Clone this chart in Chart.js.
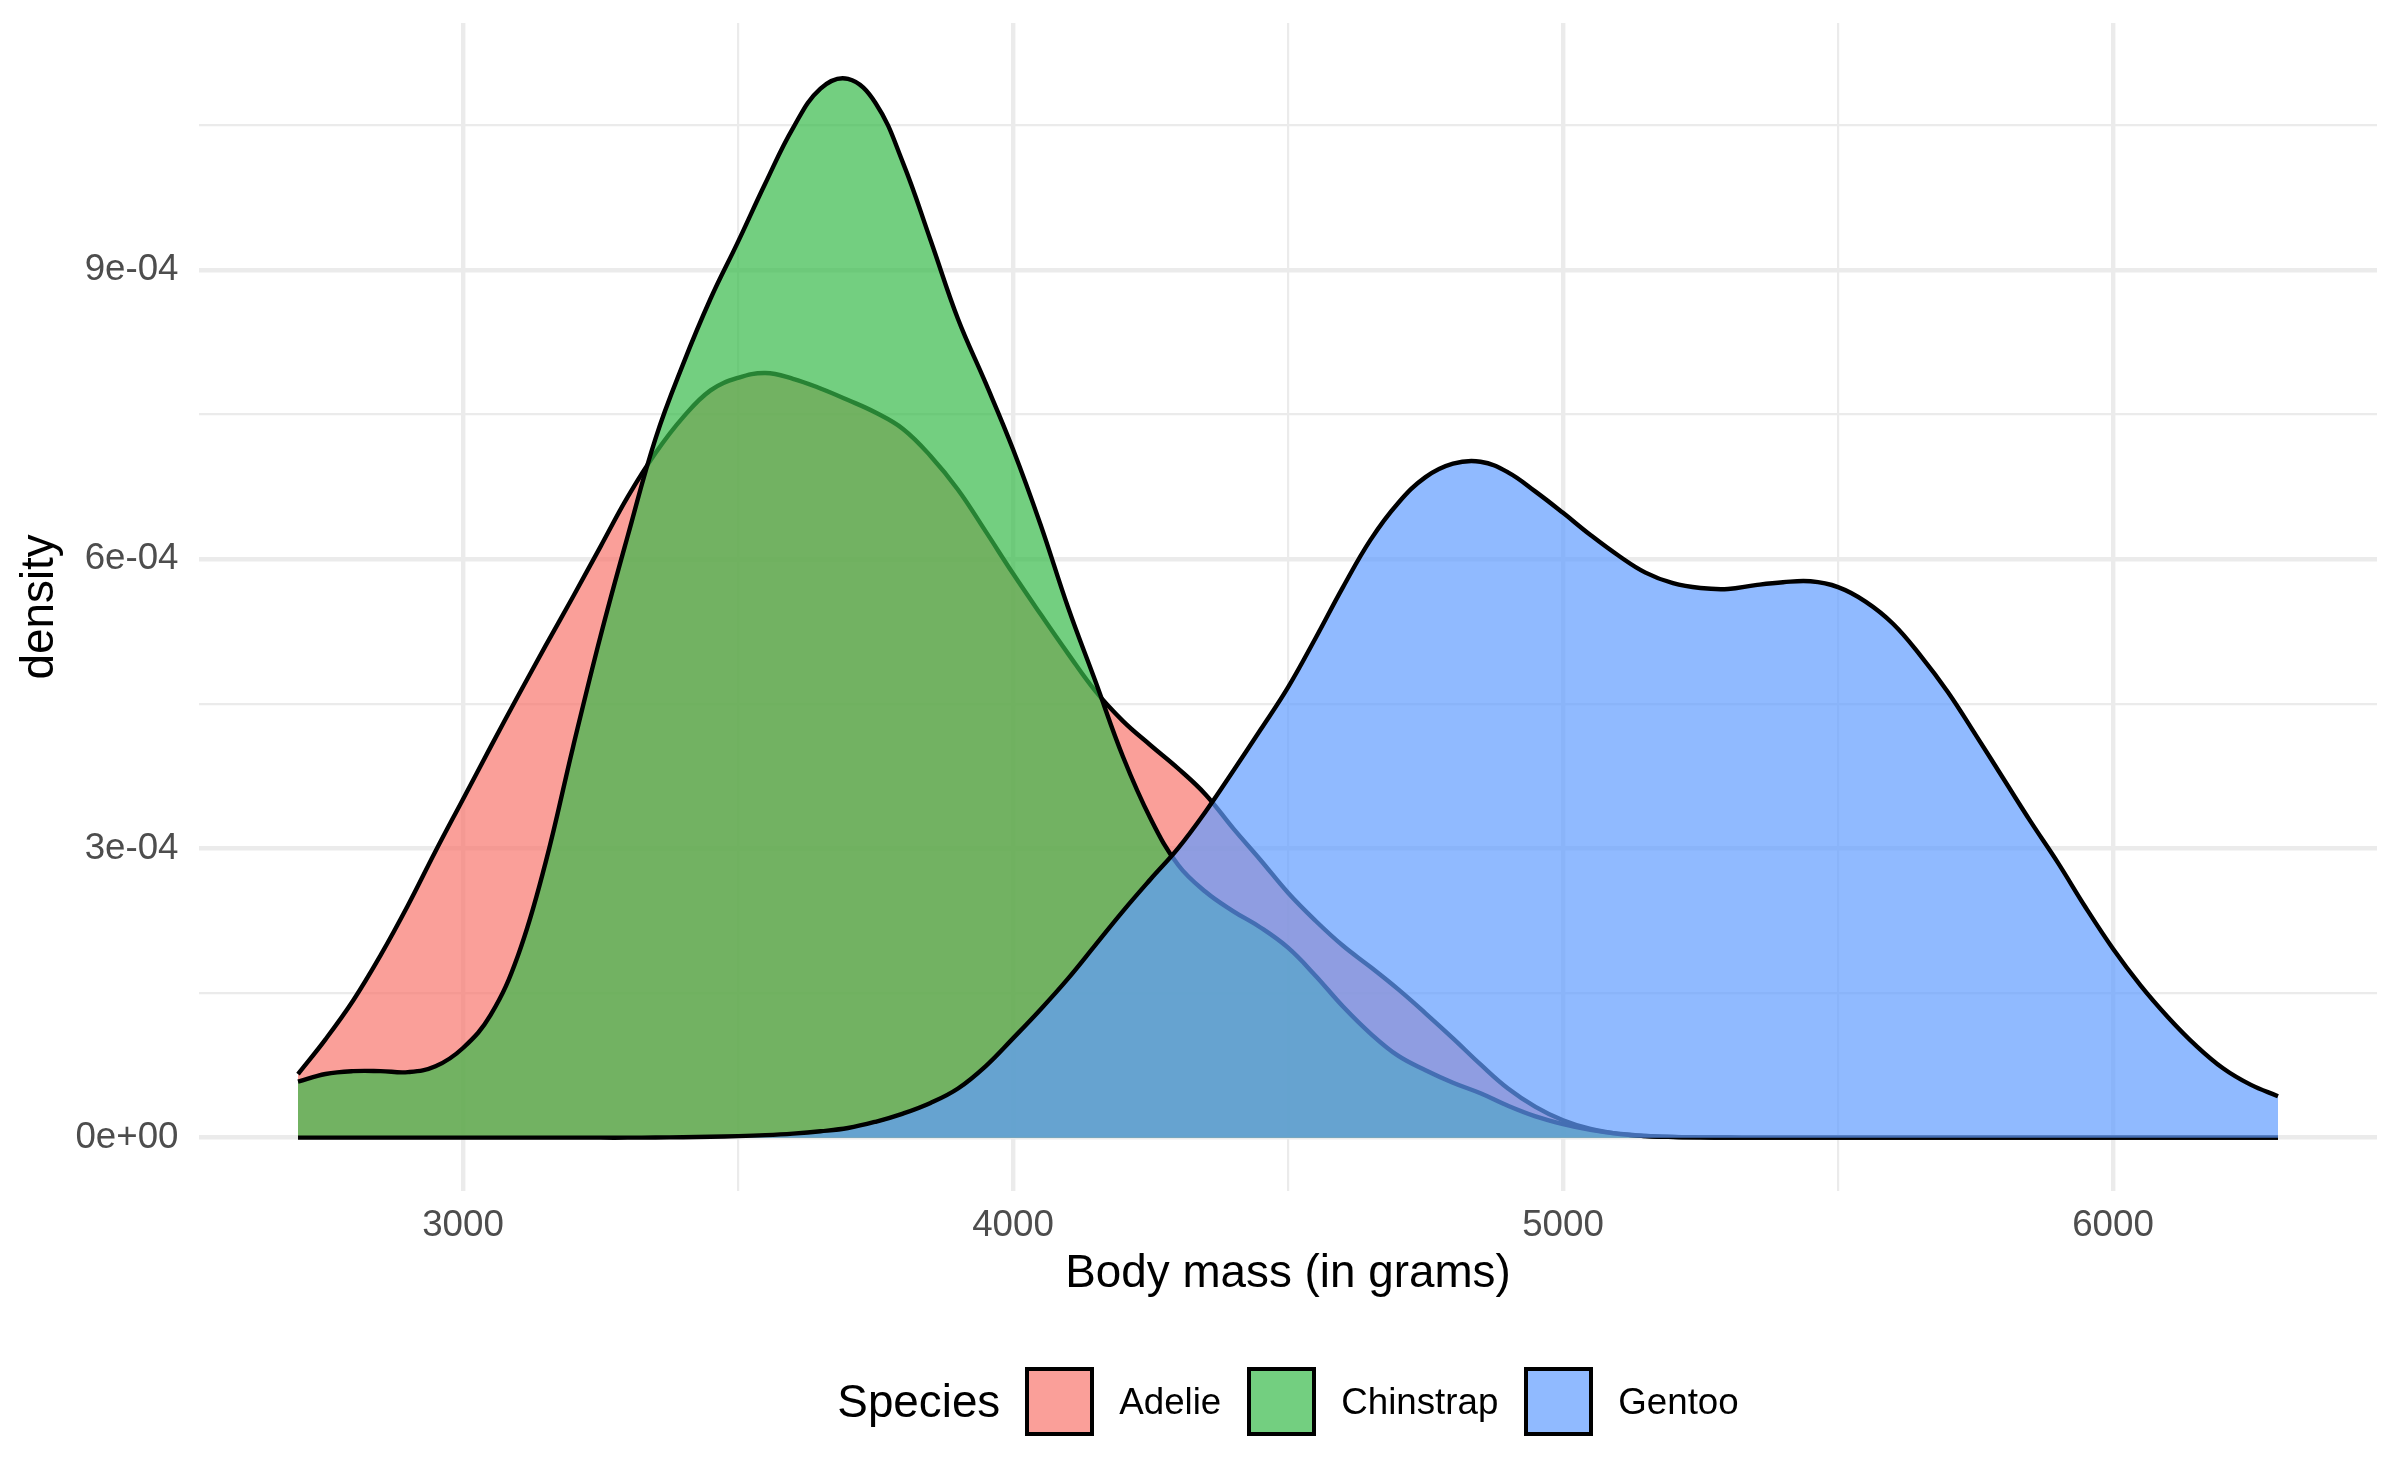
<!DOCTYPE html>
<html lang="en">
<head>
<meta charset="utf-8">
<title>Body mass density by species</title>
<script src="https://cdn.jsdelivr.net/npm/chart.js@4.4.1/dist/chart.umd.min.js"></script>
<style>
    html, body { margin: 0; padding: 0; background: #fff; }
    .wrap { position: relative; width: 2400px; height: 1483px; }
    #density-chart { position: absolute; left: 0; top: 0; }
    .legend {
        position: absolute; left: 199px; width: 2178px; top: 1367px; height: 69px;
        display: flex; justify-content: center; align-items: center;
        font-family: "Liberation Sans", Arial, sans-serif; color: #000;
    }
    .legend .title { font-size: 45.8px; margin-right: 25px; }
    .legend .key { width: 69px; height: 69px; box-sizing: border-box; border: 4px solid #000; }
    .legend .label { font-size: 36.7px; margin-left: 25px; margin-right: 26px; }
    .legend .label:last-child { margin-right: 0; }
</style>
</head>
<body>
<div class="wrap">
    <canvas id="density-chart" width="2400" height="1483"></canvas>
    <div class="legend" id="legend"></div>
</div>
<script>
(function () {
    "use strict";

    // Values, density in units of 1e-4
    var mass = [2700, 2750, 2800, 2850, 2900, 2950, 3000, 3050, 3100, 3150,
        3200, 3250, 3300, 3350, 3400, 3450, 3500, 3550, 3600, 3650,
        3700, 3750, 3800, 3850, 3900, 3950, 4000, 4050, 4100, 4150,
        4200, 4250, 4300, 4350, 4400, 4450, 4500, 4550, 4600, 4650,
        4700, 4750, 4800, 4850, 4900, 4950, 5000, 5050, 5100, 5150,
        5200, 5250, 5300, 5350, 5400, 5450, 5500, 5550, 5600, 5650,
        5700, 5750, 5800, 5850, 5900, 5950, 6000, 6050, 6100, 6150,
        6200, 6250, 6300];

    var adelie = [0.66, 1.02, 1.42, 1.89, 2.41, 2.97, 3.51, 4.05, 4.58, 5.1,
        5.61, 6.13, 6.65, 7.1, 7.47, 7.75, 7.88, 7.93, 7.87, 7.77,
        7.65, 7.52, 7.35, 7.07, 6.72, 6.29, 5.85, 5.43, 5.02, 4.63,
        4.32, 4.07, 3.83, 3.56, 3.21, 2.88, 2.54, 2.25, 1.99, 1.77,
        1.54, 1.29, 1.03, 0.76, 0.51, 0.32, 0.18, 0.09, 0.04, 0.017,
        0.007, 0.003, 0.001, 0, 0, 0, 0, 0, 0, 0,
        0, 0, 0, 0, 0, 0, 0, 0, 0, 0,
        0, 0, 0];

    var chinstrap = [0.58, 0.66, 0.69, 0.69, 0.68, 0.74, 0.93, 1.27, 1.89, 2.85,
        4.05, 5.2, 6.25, 7.25, 8.02, 8.7, 9.29, 9.9, 10.47, 10.88,
        10.98, 10.73, 10.11, 9.31, 8.49, 7.83, 7.14, 6.36, 5.5, 4.73,
        3.95, 3.31, 2.83, 2.55, 2.35, 2.18, 1.97, 1.68, 1.36, 1.08,
        0.85, 0.7, 0.57, 0.46, 0.33, 0.22, 0.14, 0.08, 0.04, 0.018,
        0.008, 0.003, 0.001, 0, 0, 0, 0, 0, 0, 0,
        0, 0, 0, 0, 0, 0, 0, 0, 0, 0,
        0, 0, 0];

    var gentoo = [0, 0, 0, 0, 0, 0, 0, 0, 0, 0,
        0, 0, 0, 0.002, 0.005, 0.01, 0.016, 0.026, 0.042, 0.066,
        0.1, 0.165, 0.25, 0.36, 0.51, 0.74, 1.03, 1.33, 1.65, 2.0,
        2.35, 2.68, 3.0, 3.38, 3.8, 4.23, 4.67, 5.18, 5.71, 6.2,
        6.58, 6.85, 6.99, 7.01, 6.9, 6.7, 6.48, 6.25, 6.04, 5.86,
        5.75, 5.7, 5.69, 5.73, 5.76, 5.77, 5.71, 5.56, 5.33, 5.0,
        4.62, 4.18, 3.73, 3.28, 2.85, 2.39, 1.96, 1.58, 1.25, 0.96,
        0.72, 0.55, 0.43];

    var species = ['Adelie', 'Chinstrap', 'Gentoo'];
    var fills = ['rgba(248, 118, 109, .7)', 'rgba(56, 187, 74, .7)', 'rgba(97, 156, 255, .7)'];

    // Axis breaks (empty label = minor grid line)
    var xTicks = [3000, 3500, 4000, 4500, 5000, 5500, 6000];
    var xTickLabels = ['3000', '', '4000', '', '5000', '', '6000'];
    var yTicks = [0, 0.00015, 0.0003, 0.00045, 0.0006, 0.00075, 0.0009, 0.00105];
    var yTickLabels = ['0e+00', '', '3e-04', '', '6e-04', '', '9e-04', ''];

    var DENSITY_UNIT = 1e-4;

    function points(values) {
        return mass.map(function (m, i) {
            return { x: m, y: values[i] * DENSITY_UNIT };
        });
    }

    function gridWidth(labels) {
        return function (ctx) {
            return labels[ctx.index] ? 4.4 : 2.2;
        };
    }

    Chart.defaults.font.family = '"Liberation Sans", Arial, sans-serif';

    // Density chart
    var series = [adelie, chinstrap, gentoo];
    var datasets = species.map(function (name, i) {
        return {
            label: name,
            data: points(series[i]),
            backgroundColor: fills[i],
            borderColor: '#000',
            borderWidth: 4.4,
            pointRadius: 0,
            tension: 0.4,
            fill: 'origin',
            order: species.length - i
        };
    });

    var ctx = document.getElementById('density-chart').getContext('2d');
    var densityChart = new Chart(ctx, {
        type: 'line',
        data: { datasets: datasets },
        options: {
            responsive: false,
            animation: false,
            devicePixelRatio: 1,
            layout: { padding: { left: 12.5, right: 23, top: 23, bottom: 181.6 } },
            plugins: {
                legend: { display: false },
                tooltip: { enabled: false }
            },
            scales: {
                x: {
                    type: 'linear',
                    min: 2520,
                    max: 6480,
                    afterBuildTicks: function (scale) {
                        scale.ticks = xTicks.map(function (v) { return { value: v }; });
                    },
                    afterFit: function (scale) {
                        scale.height = 110.7;
                        scale.paddingLeft = 0;
                        scale.paddingRight = 0;
                    },
                    border: { display: false },
                    grid: { color: '#EBEBEB', lineWidth: gridWidth(xTickLabels), drawTicks: false },
                    ticks: {
                        autoSkip: false,
                        maxRotation: 0,
                        padding: 13.3,
                        color: '#4D4D4D',
                        font: { size: 36.7 },
                        callback: function (value, index) { return xTickLabels[index]; }
                    },
                    title: {
                        display: true,
                        text: 'Body mass (in grams)',
                        color: '#000',
                        font: { size: 45.8 },
                        padding: { top: 0, bottom: 0 }
                    }
                },
                y: {
                    type: 'linear',
                    min: -0.000055,
                    max: 0.001156,
                    afterBuildTicks: function (scale) {
                        scale.ticks = yTicks.map(function (v) { return { value: v }; });
                    },
                    afterFit: function (scale) {
                        scale.width = 186.5;
                        scale.paddingTop = 0;
                        scale.paddingBottom = 0;
                    },
                    border: { display: false },
                    grid: { color: '#EBEBEB', lineWidth: gridWidth(yTickLabels), drawTicks: false },
                    ticks: {
                        autoSkip: false,
                        padding: 20.5,
                        color: '#4D4D4D',
                        font: { size: 36.7 },
                        callback: function (value, index) { return yTickLabels[index]; }
                    },
                    title: {
                        display: true,
                        text: 'density',
                        color: '#000',
                        font: { size: 45.8 },
                        padding: { top: 0, bottom: 0 }
                    }
                }
            }
        }
    });

    // Legend, ggplot style
    var legend = document.getElementById('legend');
    var head = document.createElement('span');
    head.className = 'title';
    head.textContent = 'Species';
    legend.appendChild(head);
    species.forEach(function (name, i) {
        var key = document.createElement('span');
        key.className = 'key';
        key.style.background = fills[i];
        legend.appendChild(key);
        var label = document.createElement('span');
        label.className = 'label';
        label.textContent = name;
        legend.appendChild(label);
    });
})();
</script>
</body>
</html>
